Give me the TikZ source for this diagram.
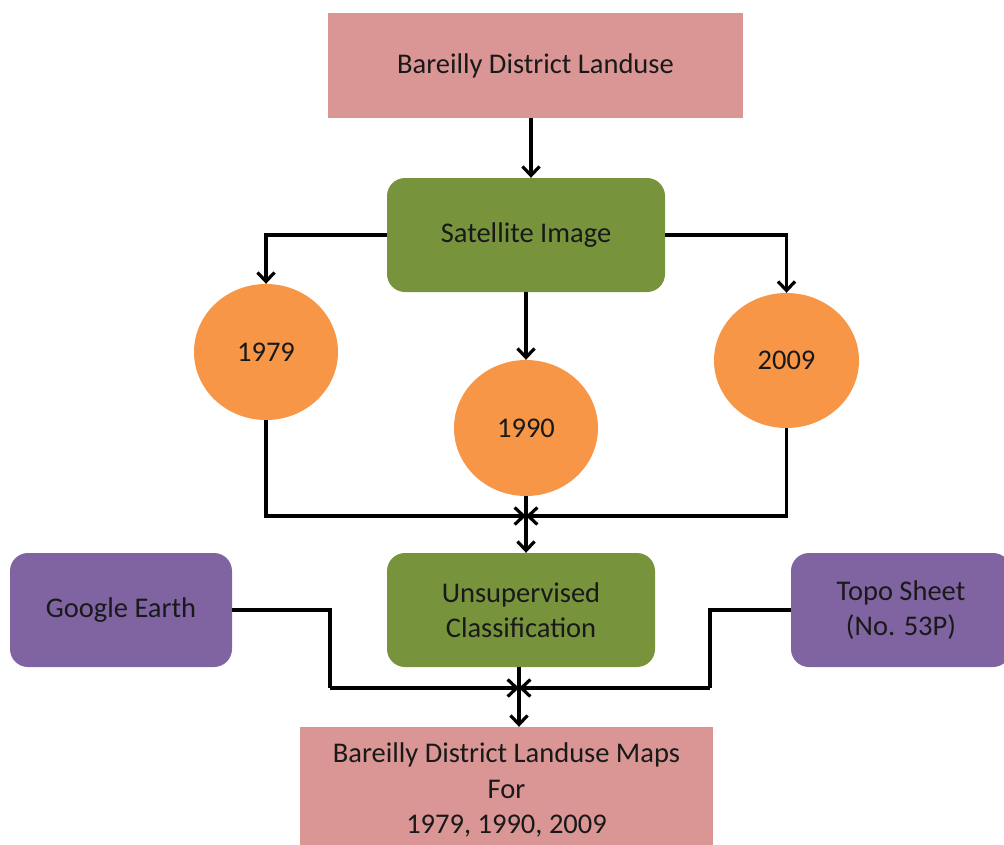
\documentclass[tikz,border=0pt]{standalone}
\usepackage{fontspec}
\setmainfont{Carlito}
\usetikzlibrary{arrows.meta,shapes.geometric}
\definecolor{pinkbox}{HTML}{D99694}
\definecolor{greenbox}{HTML}{77933C}
\definecolor{orangec}{HTML}{F79646}
\definecolor{purplebox}{HTML}{8064A2}
\tikzset{
  txt/.style={font=\fontsize{28.5}{35.5}\selectfont, text=black!90, align=center, inner sep=0pt},
  pinkrect/.style={txt, rectangle, fill=pinkbox, draw=none},
  greenrect/.style={txt, rectangle, rounded corners=18pt, fill=greenbox, draw=none},
  purprect/.style={txt, rectangle, rounded corners=18pt, fill=purplebox, draw=none},
  yearc/.style={txt, ellipse, fill=orangec, draw=none, minimum width=144pt, minimum height=136pt},
  conn/.style={line width=3.2pt, black},
  arr/.style={conn, -{Straight Barb[length=9pt,width=17pt,line width=3.2pt]}},
}
\begin{document}
\begin{tikzpicture}[x=1pt,y=-1pt]
\useasboundingbox (0,0) rectangle (1004,844);
\node[pinkrect, minimum width=415pt, minimum height=105pt] (top) at (535.5,65.5) {\raisebox{-3pt}{Bareilly District Landuse}};
\node[greenrect, minimum width=278pt, minimum height=114pt] (sat) at (526,235) {\raisebox{-3pt}{Satellite Image}};
\node[yearc] (e79) at (266,352) {1979};
\node[yearc] (e90) at (526,428) {1990};
\node[yearc, minimum width=145pt, minimum height=135pt] (e09) at (786.5,360.5) {2009};
\node[greenrect, minimum width=268pt, minimum height=114pt] (uns) at (521,610) {Unsupervised\\Classification};
\node[purprect, minimum width=222pt, minimum height=114pt] (ge) at (121,610) {\raisebox{-3pt}{Google Earth}};
\node[purprect, minimum width=220pt, minimum height=114pt] (topo) at (901,610) {Topo Sheet\\(No. 53P)};
\node[pinkrect, minimum width=413pt, minimum height=126pt] (bot) at (506.5,790) {Bareilly District Landuse Maps\\For\\1979, 1990, 2009};
\coordinate (j1) at (526,516);
\coordinate (j2) at (519,688);
\coordinate (b1) at (330,688);
\coordinate (b2) at (710,688);
\coordinate (t1) at (531,118);
\draw[arr] (t1) -- (t1 |- sat.north);
\draw[arr] (sat.west) -| (e79.north);
\draw[arr] (sat.east) -| (e09.north);
\draw[arr] (sat.south) -- (e90.north);
\draw[arr] (e79.south) |- (j1);
\draw[arr] (e09.south) |- (j1);
\draw[arr] (e90.south) -- (e90.south |- uns.north);
\draw[conn] (ge.east) -| (b1);
\draw[arr] (b1) -- (j2);
\draw[conn] (topo.west) -| (b2);
\draw[arr] (b2) -- (j2);
\draw[arr] (j2 |- uns.south) -- (j2 |- bot.north);
\end{tikzpicture}
\end{document}
